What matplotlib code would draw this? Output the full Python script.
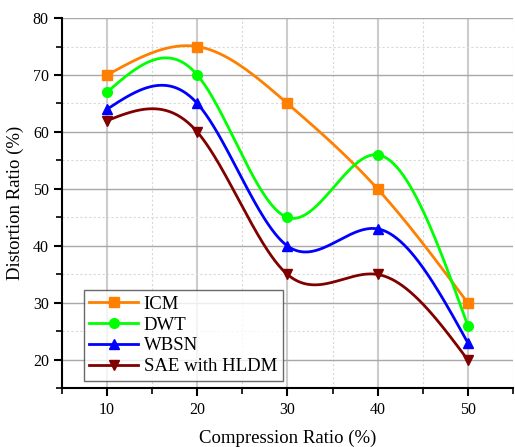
import numpy as np
import matplotlib
matplotlib.use("Agg")
import matplotlib.pyplot as plt
from matplotlib.ticker import MultipleLocator

x = [10, 20, 30, 40, 50]
icm = [70, 75, 65, 50, 30]
dwt = [67, 70, 45, 56, 26]
wbsn = [64, 65, 40, 43, 23]
sae = [62, 60, 35, 35, 20]
names = ["ICM", "DWT", "WBSN", "SAE with HLDM"]
colors = ["#FF8000", "#00FF00", "#0000FF", "#800000"]
markers = ["s", "o", "^", "v"]


def natural_spline(xs, ys, n=300):
    xs = np.asarray(xs, float)
    ys = np.asarray(ys, float)
    k = len(xs)
    h = np.diff(xs)
    A = np.zeros((k, k))
    b = np.zeros(k)
    A[0, 0] = 1
    A[-1, -1] = 1
    for i in range(1, k - 1):
        A[i, i - 1] = h[i - 1]
        A[i, i] = 2 * (h[i - 1] + h[i])
        A[i, i + 1] = h[i]
        b[i] = 6 * ((ys[i + 1] - ys[i]) / h[i] - (ys[i] - ys[i - 1]) / h[i - 1])
    M = np.linalg.solve(A, b)
    xx = np.linspace(xs[0], xs[-1], n)
    yy = np.empty_like(xx)
    for j, t in enumerate(xx):
        i = min(np.searchsorted(xs, t, side="right") - 1, k - 2)
        hi = h[i]
        a = xs[i + 1] - t
        c = t - xs[i]
        yy[j] = (M[i] * a ** 3 + M[i + 1] * c ** 3) / (6 * hi) + \
            (ys[i] / hi - M[i] * hi / 6) * a + (ys[i + 1] / hi - M[i + 1] * hi / 6) * c
    return xx, yy


plt.rcParams["font.family"] = ["Liberation Serif", "DejaVu Serif"]
fig = plt.figure(figsize=(5.15, 4.47), dpi=100)
ax = fig.add_axes([0.1204, 0.131, 0.8756, 0.8287])

for ys, name, col, mk in zip([icm, dwt, wbsn, sae], names, colors, markers):
    xx, yy = natural_spline(x, ys)
    ax.plot(xx, yy, color=col, lw=2, zorder=3)
    ax.plot(x, ys, linestyle="none", marker=mk, color=col, markersize=7, zorder=4)
    ax.plot([], [], color=col, lw=2, marker=mk, markersize=7, label=name)

ax.set_xlim(5, 55)
ax.set_ylim(15, 80)
ax.xaxis.set_major_locator(MultipleLocator(10))
ax.xaxis.set_minor_locator(MultipleLocator(5))
ax.yaxis.set_major_locator(MultipleLocator(10))
ax.yaxis.set_minor_locator(MultipleLocator(5))
ax.set_xticks([10, 20, 30, 40, 50])
ax.set_yticks([20, 30, 40, 50, 60, 70, 80])

ax.grid(which="major", axis="y", color="#a8a8a8", lw=1.0)
ax.grid(which="major", axis="x", color="#cccccc", lw=1.5)
ax.grid(which="minor", color="#d8d8d8", lw=0.8, linestyle=(0, (2, 2)))
ax.set_axisbelow(True)

for s in ["top", "right"]:
    ax.spines[s].set_visible(False)
for s in ["left", "bottom"]:
    ax.spines[s].set_linewidth(1.5)
ax.tick_params(which="major", direction="out", length=6, width=1.5, labelsize=11.5)
ax.tick_params(which="minor", direction="out", length=4, width=1.2)

ax.set_xlabel("Compression Ratio (%)", fontsize=13.5, labelpad=9)
ax.set_ylabel("Distortion Ratio (%)", fontsize=13.5, labelpad=6)

leg = ax.legend(loc="lower left", bbox_to_anchor=(0.04, 0.01), fontsize=13.5,
                frameon=True, fancybox=False, edgecolor="#444444",
                handlelength=2.6, borderpad=0.3, labelspacing=0.2,
                handletextpad=0.3, borderaxespad=0.2)
leg.get_frame().set_linewidth(1.0)

fig.savefig("out.png", dpi=100)
